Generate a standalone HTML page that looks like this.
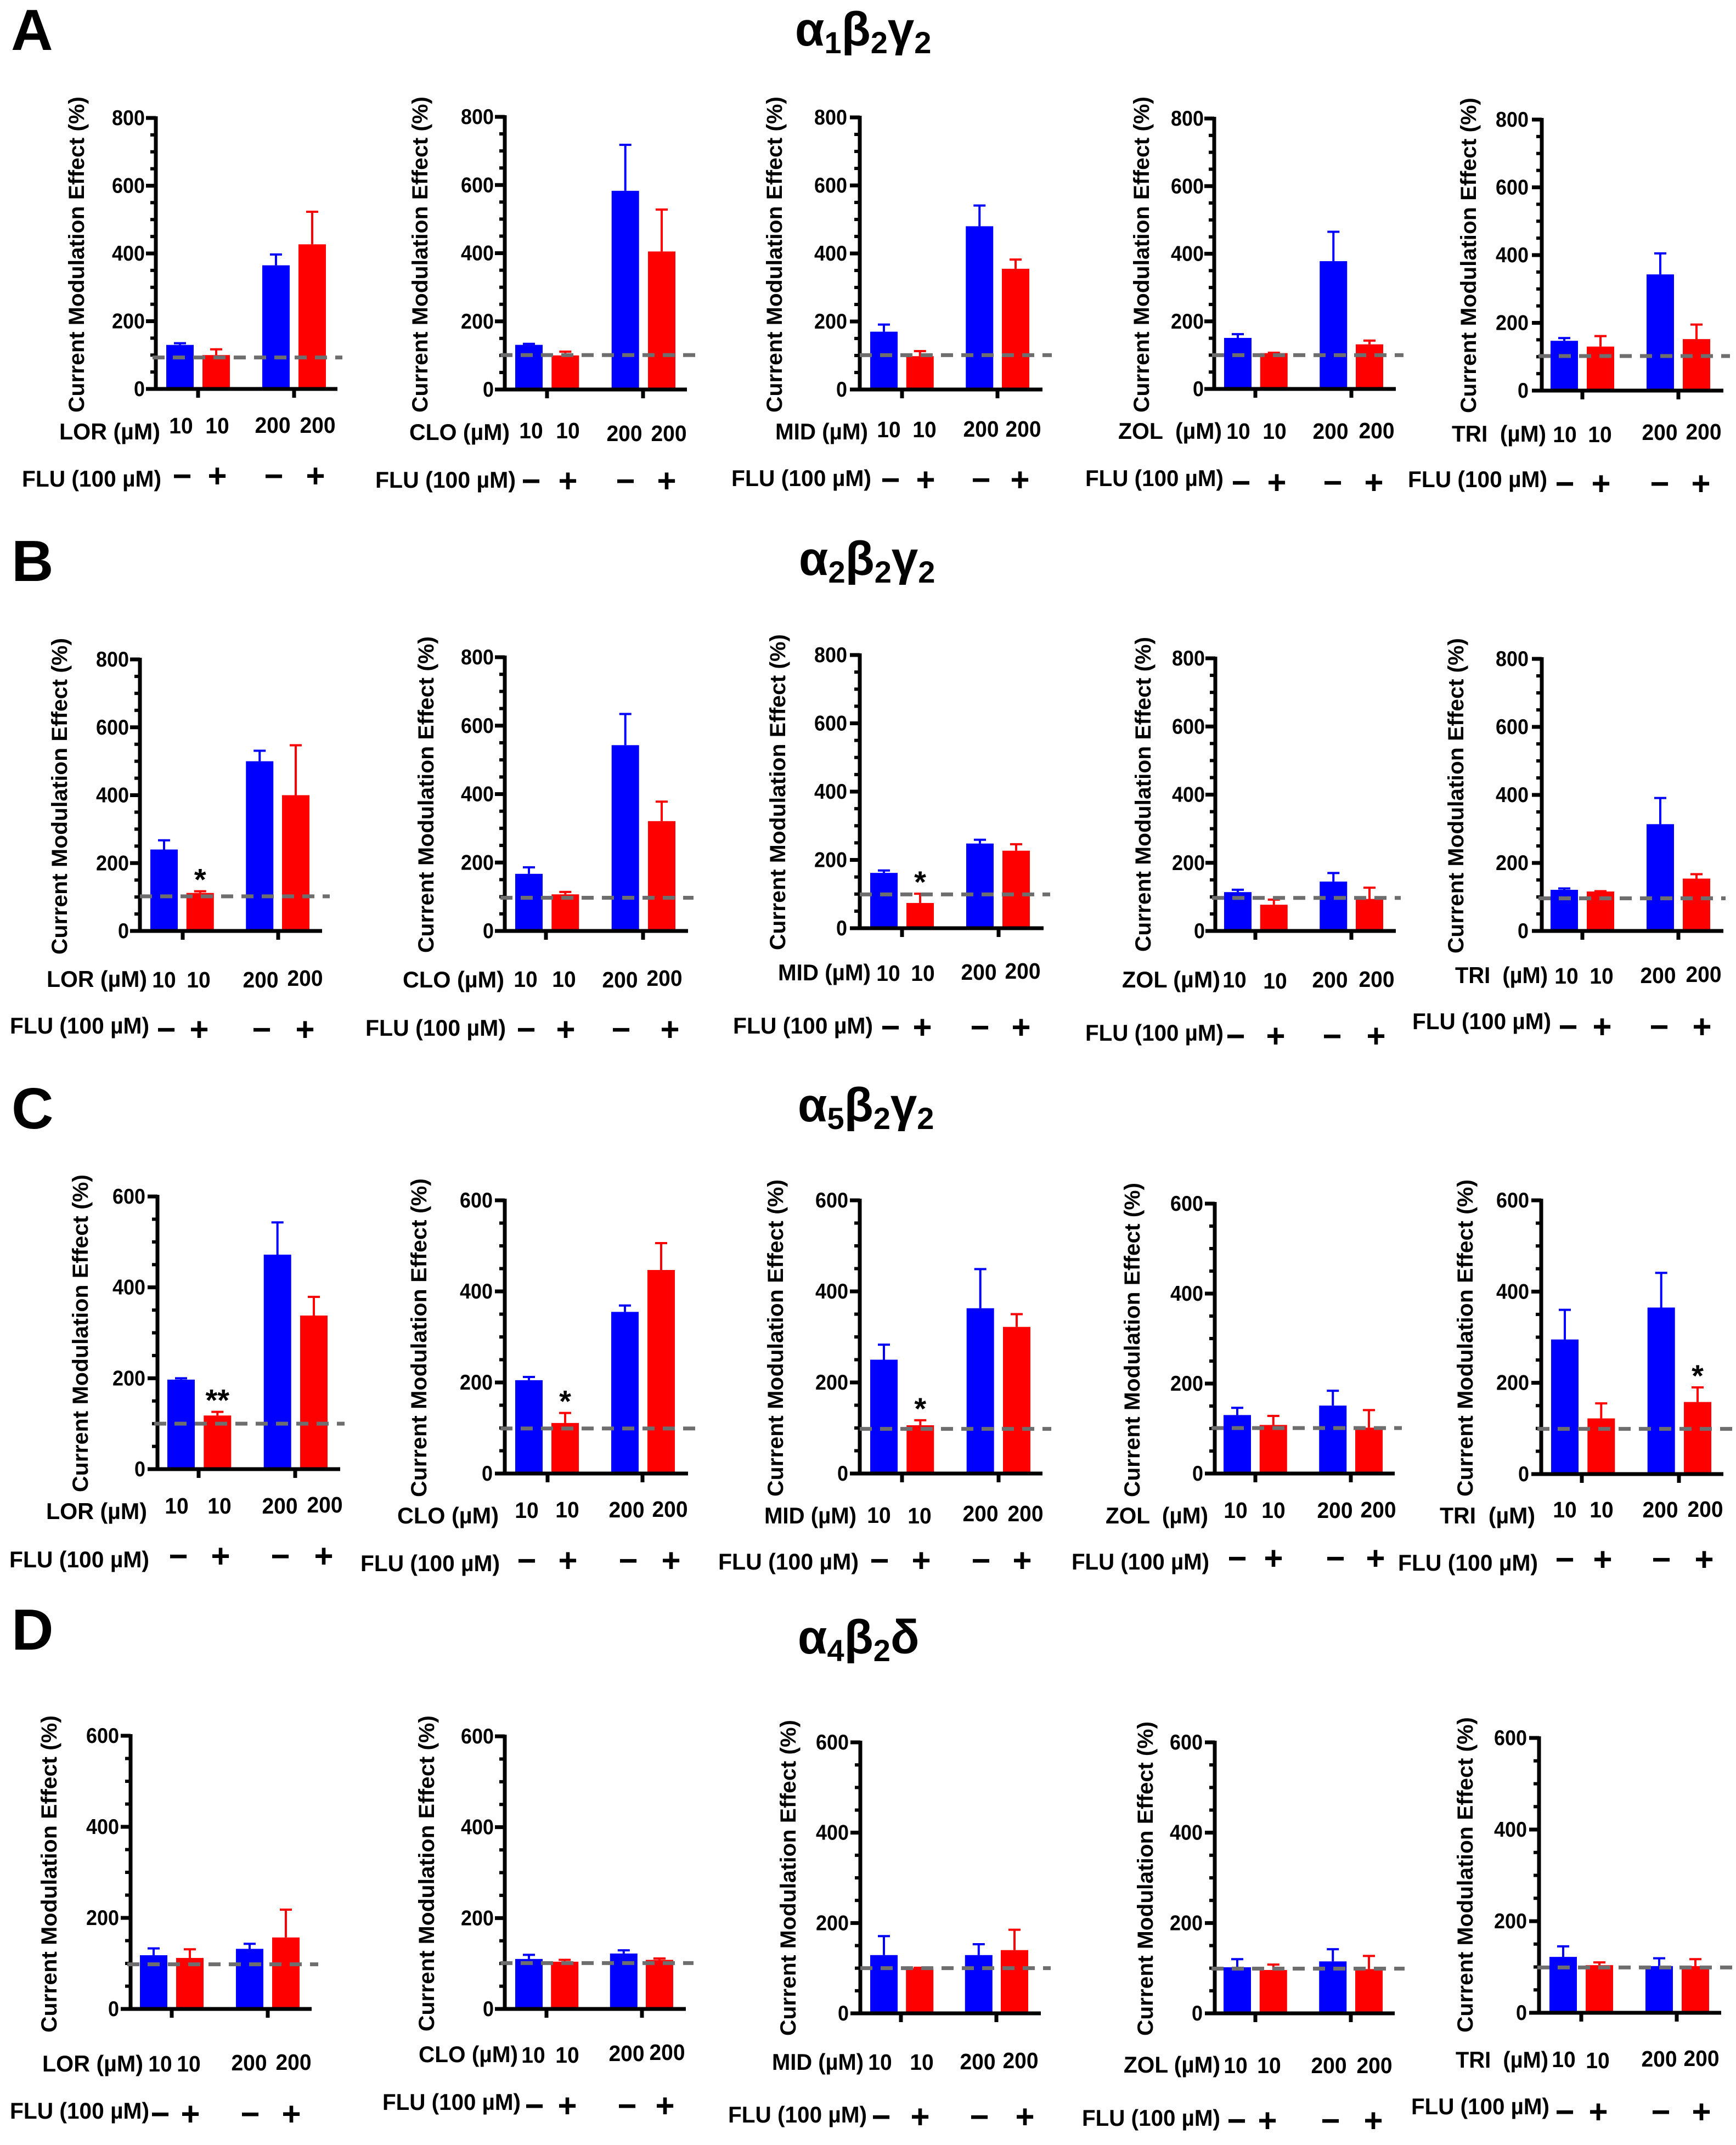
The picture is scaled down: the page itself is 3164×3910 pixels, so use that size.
<!DOCTYPE html>
<html>
<head>
<meta charset="utf-8">
<title>Current modulation effect by GABA-A receptor subtype</title>
<style>
html,body{margin:0;padding:0;background:#fff;}
svg{display:block;}
text{font-family:"Liberation Sans",Arial,sans-serif;font-weight:bold;fill:#000;white-space:pre;}
</style>
</head>
<body>
<svg id="figure" xmlns="http://www.w3.org/2000/svg" width="3164" height="3910" viewBox="0 0 3164 3910">
<rect x="0" y="0" width="3164" height="3910" fill="#fff"/>
<text x="20" y="91" font-size="106">A</text>
<text x="21" y="1059" font-size="106">B</text>
<text x="21" y="2057" font-size="106">C</text>
<text x="21" y="3007" font-size="106">D</text>
<text x="1449" y="83" font-size="87">α<tspan dy="14" font-size="56">1</tspan><tspan dy="-14">β</tspan><tspan dy="14" font-size="56">2</tspan><tspan dy="-14">γ</tspan><tspan dy="14" font-size="56">2</tspan></text>
<text x="1456" y="1048" font-size="87">α<tspan dy="14" font-size="56">2</tspan><tspan dy="-14">β</tspan><tspan dy="14" font-size="56">2</tspan><tspan dy="-14">γ</tspan><tspan dy="14" font-size="56">2</tspan></text>
<text x="1454" y="2044" font-size="87">α<tspan dy="14" font-size="56">5</tspan><tspan dy="-14">β</tspan><tspan dy="14" font-size="56">2</tspan><tspan dy="-14">γ</tspan><tspan dy="14" font-size="56">2</tspan></text>
<text x="1454" y="3014" font-size="87">α<tspan dy="14" font-size="56">4</tspan><tspan dy="-14">β</tspan><tspan dy="14" font-size="56">2</tspan><tspan dy="-14">δ</tspan></text>
</svg>
<script>
// ---- chart data ----
const rowNames = ["a1b2g2", "a2b2g2", "a5b2g2", "a4b2d"];
const drugs = ["LOR", "CLO", "MID", "ZOL", "TRI"];
const doses = ["10", "10", "200", "200"];
const fluSigns = ["\u2212", "+", "\u2212", "+"];
const fluLabel = "FLU (100 \u00b5M)";
const yAxisTitle = "Current Modulation Effect (%)";
const ticks800 = [0, 200, 400, 600, 800];
const ticks600 = [0, 200, 400, 600];
const rowTicks = [ticks800, ticks800, ticks600, ticks600];
const minorStep = 50;

const valuesA = [[130,100,365,427],[131,100,583,405],[170,98,480,355],[151,106,378,132],[147,130,343,152]];
const errTopsA = [[135,117,397,523],[134,111,718,528],[191,113,541,382],[162,107,465,143],[155,161,405,195]];
const baselinesA = [93,101,101,100,102];
const starsA = [["","","",""],["","","",""],["","","",""],["","","",""],["","","",""]];
const drugLabelsA = ["LOR (\u00b5M)","CLO (\u00b5M)","MID (\u00b5M)","ZOL  (\u00b5M)","TRI  (\u00b5M)"];

const valuesB = [[240,112,500,400],[167,107,543,321],[162,74,248,227],[114,77,145,94],[121,116,314,154]];
const errTopsB = [[267,117,531,547],[186,114,634,378],[169,101,259,246],[121,92,170,127],[125,117,391,167]];
const baselinesB = [102,97,99,97,96];
const starsB = [["","*","",""],["","","",""],["","*","",""],["","","",""],["","","",""]];
const drugLabelsB = ["LOR (\u00b5M)","CLO (\u00b5M)","MID (\u00b5M)","ZOL (\u00b5M)","TRI  (\u00b5M)"];

const valuesC = [[197,118,472,338],[205,111,355,447],[250,106,363,322],[130,108,151,102],[295,122,365,158]];
const errTopsC = [[200,126,543,379],[212,133,369,506],[283,117,449,350],[146,128,184,141],[360,155,441,190]];
const baselinesC = [100,99,98,101,99];
const starsC = [["","**","",""],["","*","",""],["","*","",""],["","","",""],["","","","*"]];
const drugLabelsC = ["LOR (\u00b5M)","CLO (\u00b5M)","MID (\u00b5M)","ZOL  (\u00b5M)","TRI  (\u00b5M)"];

const valuesD = [[118,112,132,157],[110,104,122,108],[129,100,129,140],[102,96,115,98],[122,104,102,102]];
const errTopsD = [[133,131,143,218],[119,108,129,111],[171,101,153,185],[120,108,142,127],[145,110,119,117]];
const baselinesD = [98,101,100,99,99];
const starsD = [["","","",""],["","","",""],["","","",""],["","","",""],["","","",""]];
const drugLabelsD = ["LOR (\u00b5M)","CLO (\u00b5M)","MID (\u00b5M)","ZOL (\u00b5M)","TRI  (\u00b5M)"];

const rowValues = [valuesA, valuesB, valuesC, valuesD];
const rowErrTops = [errTopsA, errTopsB, errTopsC, errTopsD];
const rowBaselines = [baselinesA, baselinesB, baselinesC, baselinesD];
const rowStars = [starsA, starsB, starsC, starsD];
const rowDrugLabels = [drugLabelsA, drugLabelsB, drugLabelsC, drugLabelsD];

// ---- per-panel page layout (not data) ----
function frame(ax,yt,yb,b0,bN,end,t1,t2,ds,de,tr,tx,tt,tb,lx0,lx1,ly,nx,ny,fx0,fx1,fy,sx,sy){
  return {ax,yt,yb,b0,bN,end,t1,t2,ds,de,tr,tx,tt,tb,lx0,lx1,ly,nx,ny,fx0,fx1,fy,sx,sy};
}
const layoutRows = [
 [
  frame(284,215,709,303,544,615,361,536,278,624,264,141,176,752,108,292,787,[330,396,497,579],[776,776,775,775],40,294,873,[332,396,499,575],868),
  frame(920,213,710,939,1181,1252,997,1172,912,1273,900,767,176,752,746,929,788,[968,1035,1138,1219],[785,785,790,790],684,940,875,[968,1035,1140,1215],877),
  frame(1567,214,710,1586,1826,1900,1644,1818,1567,1917,1544,1413,176,752,1413,1582,787,[1620,1685,1788,1865],[783,783,782,782],1333,1588,872,[1623,1687,1788,1859],875),
  frame(2213,216,709,2231,2471,2544,2288,2463,2209,2558,2194,2082,176,752,2038,2227,786,[2257,2323,2425,2509],[786,786,786,785],1978,2230,872,[2262,2327,2429,2504],880),
  frame(2810,218,712,2826,3067,3141,2884,3059,2804,3153,2786,2678,178,753,2646,2818,791,[2852,2916,3025,3105],[792,792,788,787],2566,2820,874,[2852,2918,3025,3100],882)
 ],
 [
  frame(255,1202,1697,274,514,587,333,507,255,601,235,110,1163,1740,85,268,1785,[299,362,475,556],[1786,1786,1786,1783],18,272,1870,[303,363,477,556],1877),
  frame(920,1198,1697,939,1181,1254,995,1172,912,1264,900,778,1160,1737,734,919,1786,[958,1028,1130,1211],[1785,1785,1786,1783],666,922,1874,[959,1031,1132,1221],1877),
  frame(1567,1194,1692,1586,1827,1902,1644,1820,1567,1914,1544,1419,1156,1732,1418,1587,1773,[1619,1682,1784,1864],[1774,1774,1772,1770],1336,1591,1870,[1623,1681,1786,1861],1873),
  frame(2215,1200,1697,2231,2471,2544,2288,2463,2209,2553,2196,2085,1161,1735,2045,2224,1786,[2250,2324,2424,2509],[1786,1788,1786,1785],1978,2230,1883,[2252,2325,2428,2508],1889),
  frame(2810,1201,1697,2826,3067,3141,2884,3059,2804,3145,2786,2655,1163,1738,2652,2821,1778,[2855,2919,3022,3105],[1779,1779,1778,1776],2574,2827,1862,[2858,2920,3024,3102],1872)
 ],
 [
  frame(287,2181,2678,305,547,620,362,538,281,628,265,148,2141,2720,84,268,2755,[322,400,510,592],[2745,2745,2745,2743],17,272,2843,[325,402,511,590],2837),
  frame(920,2188,2686,939,1180,1254,998,1171,912,1279,898,765,2148,2729,724,909,2763,[960,1034,1142,1221],[2753,2752,2752,2751],657,911,2850,[960,1035,1145,1223],2845),
  frame(1567,2188,2686,1586,1828,1900,1644,1820,1567,1916,1546,1415,2150,2728,1393,1561,2763,[1602,1676,1787,1869],[2762,2763,2759,2759],1309,1565,2847,[1603,1679,1788,1863],2845),
  frame(2214,2194,2686,2230,2470,2542,2288,2462,2208,2555,2193,2065,2156,2729,2015,2202,2763,[2252,2321,2433,2512],[2753,2753,2753,2752],1953,2204,2847,[2255,2321,2434,2507],2841),
  frame(2809,2188,2687,2827,3069,3141,2883,3060,2802,3158,2787,2672,2150,2728,2624,2798,2763,[2852,2919,3026,3108],[2752,2752,2752,2751],2548,2803,2849,[2852,2921,3028,3106],2843)
 ],
 [
  frame(238,3164,3662,255,496,568,313,488,232,580,217,91,3127,3705,77,261,3762,[292,344,454,535],[3762,3762,3760,3759],18,272,3848,[292,347,456,531],3854),
  frame(920,3165,3662,939,1177,1250,996,1170,912,1264,900,779,3127,3703,763,944,3745,[972,1034,1142,1216],[3746,3746,3743,3741],697,949,3832,[974,1034,1143,1212],3839),
  frame(1568,3176,3670,1586,1824,1897,1642,1816,1568,1915,1547,1438,3135,3711,1407,1574,3759,[1604,1680,1782,1860],[3759,3759,3758,3756],1327,1580,3855,[1606,1677,1785,1868],3859),
  frame(2214,3176,3670,2230,2470,2542,2288,2462,2208,2560,2192,2089,3138,3711,2048,2224,3764,[2252,2313,2422,2505],[3765,3765,3765,3765],1972,2224,3861,[2254,2310,2425,2503],3866),
  frame(2805,3168,3669,2824,3065,3137,2882,3056,2802,3157,2783,2672,3130,3705,2653,2822,3755,[2850,2912,3024,3101],[3754,3756,3753,3752],2572,2824,3840,[2852,2913,3027,3101],3850)
 ]
];
const barSlots = [0, 1, 2.65, 3.65];
const barWidth = 50;
const seriesColors = ["#0000ff", "#ff0000", "#0000ff", "#ff0000"];

const SVGNS = "http://www.w3.org/2000/svg";
const root = document.getElementById("figure");

function make(tag, parent, attrs, content) {
  const node = document.createElementNS(SVGNS, tag);
  for (const k in attrs) node.setAttribute(k, attrs[k]);
  if (content !== undefined) node.textContent = content;
  parent.appendChild(node);
  return node;
}

function drawPanel(r, p) {
  const L = layoutRows[r][p];
  const values = rowValues[r][p];
  const errTops = rowErrTops[r][p];
  const baseline = rowBaselines[r][p];
  const stars = rowStars[r][p];
  const ticks = rowTicks[r];
  const yMax = ticks[ticks.length - 1];
  const yScale = function (v) { return L.yb - (v / yMax) * (L.yb - L.yt); };
  const xScale = function (i) { return L.b0 + barSlots[i] * (L.bN - L.b0) / barSlots[3]; };

  const g = make("g", root, {});
  
  

  // bars and error bars
  values.forEach(function (v, i) {
    const left = xScale(i);
    const cx = left + barWidth / 2;
    const color = seriesColors[i];
    const stem = make("line", g, {x1: cx, x2: cx, y1: yScale(v), y2: yScale(errTops[i]), stroke: color, "stroke-width": 4});
    
    
    const cap = make("line", g, {x1: cx - 11, x2: cx + 11, y1: yScale(errTops[i]), y2: yScale(errTops[i]), stroke: color, "stroke-width": 4});
    
    
    const bar = make("rect", g, {x: left, y: yScale(v), width: barWidth, height: L.yb - yScale(v), fill: color});
    
    
    if (stars[i]) {
      const star = make("text", g, {x: cx, y: yScale(errTops[i]) - 34 + 32, "font-size": 56, "text-anchor": "middle"}, stars[i]);
      
      
    }
  });

  // y axis
  const yAxis = make("line", g, {x1: L.ax, x2: L.ax, y1: L.yt - 3, y2: L.yb + 3, stroke: "#000", "stroke-width": 7});
  
  
  for (let v = 0; v <= yMax; v += minorStep) {
    if (v % 200 === 0) continue;
    const minor = make("line", g, {x1: L.ax - 10, x2: L.ax, y1: yScale(v), y2: yScale(v), stroke: "#000", "stroke-width": 6});
    
    
  }
  ticks.forEach(function (v) {
    const tick = make("line", g, {x1: L.ax - 18, x2: L.ax, y1: yScale(v), y2: yScale(v), stroke: "#000", "stroke-width": 7});
    
    
    const label = make("text", g, {x: L.tr, y: yScale(v) + 13, "font-size": 39, "text-anchor": "end", textLength: 20 * String(v).length, lengthAdjust: "spacingAndGlyphs"}, String(v));
    
    
  });

  // x axis
  const xAxis = make("line", g, {x1: L.ax - 18, x2: L.end, y1: L.yb, y2: L.yb, stroke: "#000", "stroke-width": 7});
  
  
  [L.t1, L.t2].forEach(function (tx) {
    const xTick = make("line", g, {x1: tx, x2: tx, y1: L.yb, y2: L.yb + 16, stroke: "#000", "stroke-width": 7});
    
    
  });

  // 100% reference line
  const ref = make("line", g, {x1: L.ds, x2: L.de, y1: yScale(baseline), y2: yScale(baseline), stroke: "#6e6e6e", "stroke-width": 7, "stroke-dasharray": "22 15"});
  
  

  // y axis title
  const midY = (L.tt + L.tb) / 2;
  const title = make("text", g, {x: 0, y: 0, "font-size": 40, "text-anchor": "middle", transform: "translate(" + (L.tx + 12) + "," + midY + ") rotate(-90)", textLength: L.tb - L.tt, lengthAdjust: "spacingAndGlyphs"}, yAxisTitle);
  
  

  // drug concentration row
  const drugLabel = make("text", g, {x: L.lx0, y: L.ly + 14, "font-size": 42, textLength: L.lx1 - L.lx0, lengthAdjust: "spacingAndGlyphs"}, rowDrugLabels[r][p]);
  
  
  doses.forEach(function (d, i) {
    const dose = make("text", g, {x: L.nx[i], y: L.ny[i] + 14, "font-size": 41, "text-anchor": "middle", textLength: 21.7 * d.length, lengthAdjust: "spacingAndGlyphs"}, d);
    
    
  });

  // flumazenil row
  const flu = make("text", g, {x: L.fx0, y: L.fy + 14, "font-size": 42, textLength: L.fx1 - L.fx0, lengthAdjust: "spacingAndGlyphs"}, fluLabel);
  
  
  fluSigns.forEach(function (s, i) {
    const sign = make("text", g, {x: L.sx[i], y: L.sy + 20, "font-size": 60, "text-anchor": "middle"}, s);
    
    
  });
}

for (let r = 0; r < layoutRows.length; r++) {
  for (let p = 0; p < drugs.length; p++) {
    drawPanel(r, p);
  }
}
</script>
</body>
</html>
